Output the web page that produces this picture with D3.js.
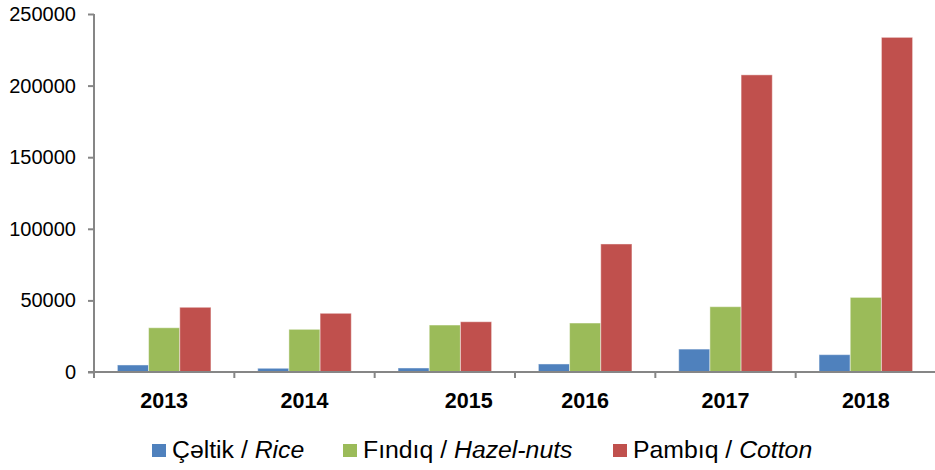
<!DOCTYPE html>
<html>
<head>
<meta charset="utf-8">
<script src="https://cdn.jsdelivr.net/npm/d3@7/dist/d3.min.js"></script>
<style>
  html, body { margin: 0; padding: 0; background: #fff; }
  svg { display: block; font-family: "Liberation Sans", Arial, sans-serif; }
</style>
</head>
<body>
<svg id="chart" width="935" height="470"></svg>
<script>
// Years on the category axis
const years = ["2013", "2014", "2015", "2016", "2017", "2018"];
// Category labels as printed under the axis
const yearLabels = ["2013", "2014", "\u00a0\u00a0\u00a0\u00a0\u00a0\u00a0\u00a0\u00a02015", "2016", "2017", "2018"];

// Series
const seriesNames = ["rice", "hazel", "cotton"];
const riceValues   = [4900, 2600, 2800, 5600, 16000, 12100];
const hazelValues  = [30900, 29800, 32800, 34200, 45600, 52100];
const cottonValues = [45200, 41000, 35100, 89400, 207500, 233700];

// Legend text: local name and English name (italic)
const legendLocal   = ["Çəltik / ", "Fındıq / ", "Pambıq / "];
const legendEnglish = ["Rice", "Hazel-nuts", "Cotton"];

const yTicks = [0, 50000, 100000, 150000, 200000, 250000];

const colors = { rice: "#4F81BD", hazel: "#9BBB59", cotton: "#C0504D" };
const valuesBySeries = { rice: riceValues, hazel: hazelValues, cotton: cottonValues };

const svg = d3.select("#chart");
const plotLeft = 94, plotRight = 936, plotTop = 14, plotBottom = 372;

const x = d3.scaleBand().domain(years).range([plotLeft, plotRight]).paddingInner(0).paddingOuter(0);
// 3 bars per group with gap = 150% of bar width
const inner = d3.scaleBand().domain(seriesNames)
  .range([0, x.bandwidth()]).paddingInner(0).paddingOuter(0.75);
const y = d3.scaleLinear().domain([0, 250000]).range([plotBottom, plotTop]);

const axisColor = "#868686";

// Bars
const groups = svg.append("g").selectAll("g")
  .data(years).join("g")
  .attr("transform", d => `translate(${x(d)},0)`);

groups.selectAll("rect")
  .data((d, i) => seriesNames.map(s => ({ s, v: valuesBySeries[s][i] })))
  .join("rect")
  .attr("x", d => inner(d.s))
  .attr("width", inner.bandwidth())
  .attr("y", d => y(d.v))
  .attr("height", d => y(0) - y(d.v))
  .attr("fill", d => colors[d.s])
  .attr("stroke", "rgba(255,255,255,0.45)")
  .attr("stroke-width", 1);

// Y axis
const yAxis = svg.append("g")
  .attr("transform", `translate(${plotLeft},0)`)
  .call(d3.axisLeft(y).tickValues(yTicks).tickSize(6).tickPadding(12).tickFormat(d3.format("d")));
yAxis.select(".domain").attr("stroke", axisColor).attr("stroke-width", 2)
  .attr("d", `M0,${plotTop}V${plotBottom}`);
yAxis.selectAll(".tick line").attr("stroke", axisColor).attr("stroke-width", 2);
yAxis.selectAll(".tick text")
  .attr("fill", "#000").style("font-size", "20px")
  .style("font-family", "'Liberation Sans', Arial, sans-serif");

// X axis
const xAxis = svg.append("g")
  .attr("transform", `translate(0,${plotBottom})`)
  .call(d3.axisBottom(x).tickSize(0).tickPadding(21)
    .tickFormat((d, i) => yearLabels[i]));
xAxis.select(".domain").attr("stroke", axisColor).attr("stroke-width", 2)
  .attr("d", `M${plotLeft - 6},0H${plotRight}`);
xAxis.selectAll(".tick text")
  .attr("fill", "#000").style("font-size", "21.5px").style("font-weight", "bold")
  .style("font-family", "'Liberation Sans', Arial, sans-serif");

// Boundary ticks between categories
const bounds = years.map(d => x(d));
svg.append("g").selectAll("line")
  .data(bounds).join("line")
  .attr("x1", d => d).attr("x2", d => d)
  .attr("y1", plotBottom).attr("y2", plotBottom + 6)
  .attr("stroke", axisColor).attr("stroke-width", 2);

// Legend
const legendX = [152, 343, 613];
const legend = svg.append("g").selectAll("g")
  .data(seriesNames).join("g")
  .attr("transform", (d, i) => `translate(${legendX[i]},444)`);
legend.append("rect")
  .attr("width", 14).attr("height", 13)
  .attr("fill", d => colors[d]);
const lt = legend.append("text")
  .attr("x", 20).attr("y", 13.5)
  .style("font-size", "24.8px").attr("fill", "#000");
lt.append("tspan").text((d, i) => legendLocal[i]);
lt.append("tspan").style("font-style", "italic").text((d, i) => legendEnglish[i]);
</script>
</body>
</html>
